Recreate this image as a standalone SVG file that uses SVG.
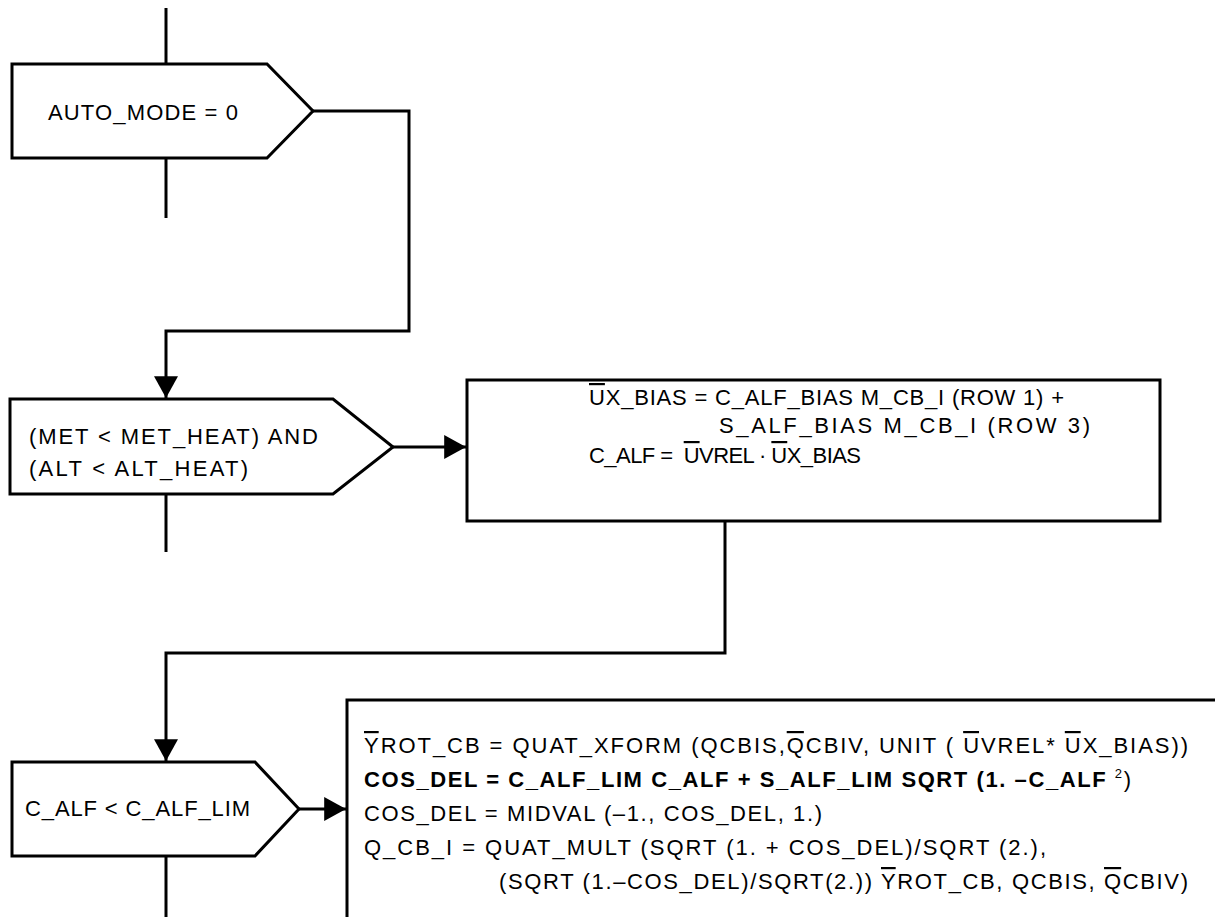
<svg xmlns="http://www.w3.org/2000/svg" width="1215" height="917" viewBox="0 0 1215 917">
<style>
.shape{fill:#fff;stroke:#000;stroke-width:3;stroke-linejoin:miter}
.conn{fill:none;stroke:#000;stroke-width:3}
text{font-family:"Liberation Sans",Arial,sans-serif;font-size:22px;fill:#000}
.ob{text-decoration:overline}
.b{font-weight:bold}
.sup{font-size:13px;font-weight:normal}
</style>
<defs>
<marker id="arr" markerUnits="userSpaceOnUse" markerWidth="22" markerHeight="24" viewBox="0 0 20 22" refX="20" refY="11" orient="auto">
<path d="M0,0 L20,11 L0,22 Z" fill="#000"/>
</marker>
</defs>
<g id="connectors">
<line class="conn" x1="166" y1="8" x2="166" y2="64"/>
<line class="conn" x1="166" y1="158" x2="166" y2="218"/>
<path class="conn" d="M313,111 H409 V331 H166 V398" marker-end="url(#arr)"/>
<path class="conn" d="M393,447 H466" marker-end="url(#arr)"/>
<line class="conn" x1="166" y1="494" x2="166" y2="552"/>
<path class="conn" d="M725,521 V653 H166 V761" marker-end="url(#arr)"/>
<path class="conn" d="M299,809 H346" marker-end="url(#arr)"/>
<line class="conn" x1="166" y1="856" x2="166" y2="917"/>
</g>
<g id="decision1">
<path class="shape" d="M12,64 H267 L313,111 L267,158 H12 Z"/>
<text x="48" y="120" textLength="190" lengthAdjust="spacing">AUTO_MODE = 0</text>
</g>
<g id="decision2">
<path class="shape" d="M10,399 H333 L393,447 L333,494 H10 Z"/>
<text x="29" y="444" textLength="289" lengthAdjust="spacing">(MET &lt; MET_HEAT) AND</text>
<text x="29" y="476" textLength="219" lengthAdjust="spacing">(ALT &lt; ALT_HEAT)</text>
</g>
<g id="box1">
<rect class="shape" x="467" y="380" width="693" height="141"/>
<text x="589" y="405" textLength="475" lengthAdjust="spacing"><tspan class="ob">U</tspan>X_BIAS = C_ALF_BIAS M_CB_I (ROW 1) +</text>
<text x="719" y="433" textLength="371" lengthAdjust="spacing">S_ALF_BIAS M_CB_I (ROW 3)</text>
<text x="589" y="463" textLength="272" lengthAdjust="spacing" xml:space="preserve">C_ALF =  <tspan class="ob">U</tspan>VREL · <tspan class="ob">U</tspan>X_BIAS</text>
</g>
<g id="decision3">
<path class="shape" d="M12,762 H255 L299,809 L255,856 H12 Z"/>
<text x="25" y="816" textLength="225" lengthAdjust="spacing">C_ALF &lt; C_ALF_LIM</text>
</g>
<g id="box2">
<path class="shape" d="M347,917 V700 H1218" style="fill:#fff"/>
<text x="364" y="753" textLength="824" lengthAdjust="spacing"><tspan class="ob">Y</tspan>ROT_CB = QUAT_XFORM (QCBIS,<tspan class="ob">Q</tspan>CBIV, UNIT ( <tspan class="ob">U</tspan>VREL* <tspan class="ob">U</tspan>X_BIAS))</text>
<text x="364" y="787" textLength="767" lengthAdjust="spacing"><tspan class="b">COS_DEL = C_ALF_LIM C_ALF + S_ALF_LIM SQRT (1. –C_ALF </tspan><tspan class="sup" dy="-9">2</tspan><tspan dy="9">)</tspan></text>
<text x="364" y="821" textLength="458" lengthAdjust="spacing">COS_DEL = MIDVAL (–1., COS_DEL, 1.)</text>
<text x="364" y="855" textLength="682" lengthAdjust="spacing">Q_CB_I = QUAT_MULT (SQRT (1. + COS_DEL)/SQRT (2.),</text>
<text x="499" y="889" textLength="689" lengthAdjust="spacing">(SQRT (1.–COS_DEL)/SQRT(2.)) <tspan class="ob">Y</tspan>ROT_CB, QCBIS, <tspan class="ob">Q</tspan>CBIV)</text>
</g>
</svg>
